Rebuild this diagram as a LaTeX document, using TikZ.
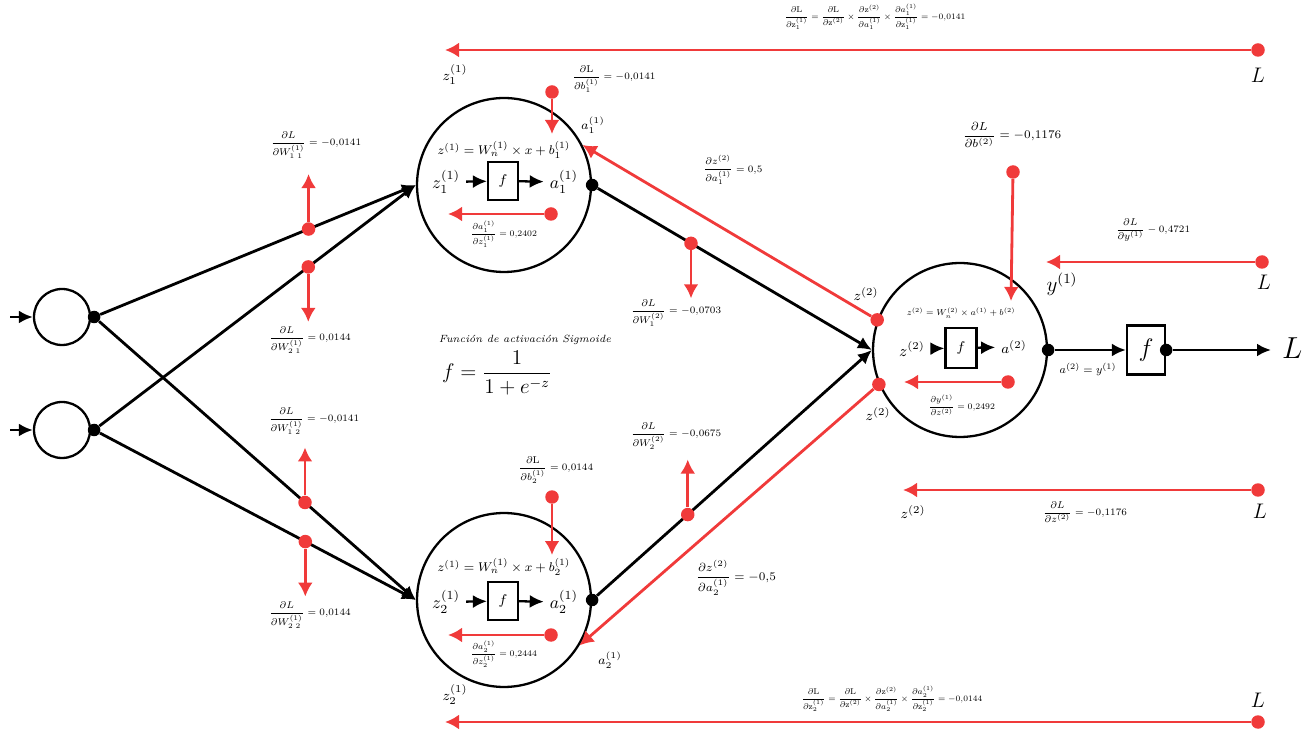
\documentclass[tikz,border=0pt]{standalone}
\usepackage{xcolor}
\usepackage{tikz}
\usetikzlibrary{arrows.meta}
\usepackage{amsmath}
\definecolor{rojo}{HTML}{F03A3A}

\begin{document}
\begin{tikzpicture}[x=0.02cm, y=-0.02cm,
    neurona/.style={draw, circle, line width=1.3pt, minimum size=3.48cm, inner sep=0pt},
    entrada/.style={draw, circle, line width=1.3pt, minimum size=1.12cm, inner sep=0pt},
    punto/.style={circle, fill=black, inner sep=0pt, minimum size=0.25cm},
    puntorojo/.style={circle, fill=rojo, inner sep=0pt, minimum size=0.27cm},
    caja/.style={draw, line width=1.3pt, minimum width=0.6cm, minimum height=0.76cm, inner sep=0pt},
    flecha/.style={line width=1.6pt, -{Latex[length=2.8mm,width=2.6mm]}},
    grad/.style={rojo, line width=1.6pt, -{Latex[length=2.8mm,width=3mm]}},
    etiq/.style={font=\scriptsize, scale=0.8, inner sep=1pt},
    chica/.style={font=\scriptsize, scale=0.7, inner sep=1pt},
    grande/.style={font=\scriptsize, scale=0.95, inner sep=1pt},
    marca/.style={font=\footnotesize, inner sep=1pt}]
    \useasboundingbox (0,0) rectangle (1304,732);
    % Capa de entrada
    \node[entrada] (e1) at (62,317) {};
    \node[entrada] (e2) at (62,430) {};
    \coordinate (i1) at (10,317);
    \coordinate (i2) at (10,430);
    \draw[flecha] (i1) -- (e1);
    \draw[flecha] (i2) -- (e2);
    \node[punto] (s1) at ([xshift=0.06cm]e1.east) {};
    \node[punto] (s2) at ([xshift=0.06cm]e2.east) {};
    % Capa oculta
    \node[neurona] (h1) at (504,185) {};
    \node[neurona] (h2) at (504,600) {};
    \node[punto] (t1) at (h1.east) {};
    \node[punto] (t2) at (h2.east) {};
    \draw[flecha] (s1) -- coordinate[pos=0.66] (w11) (h1.west);
    \draw[flecha] (s2) -- coordinate[pos=0.66] (w21) (h1.west);
    \draw[flecha] (s1) -- coordinate[pos=0.65] (w12) (h2.west);
    \draw[flecha] (s2) -- coordinate[pos=0.65] (w22) (h2.west);
    % Neurona de salida
    \node[neurona] (o) at (960,350) {};
    \node[punto] (so) at (o.east) {};
    \draw[flecha] (t1) -- coordinate[pos=0.34] (v1) (o.west);
    \draw[flecha] (t2) -- coordinate[pos=0.33] (v2) (o.west);
    \node[caja, minimum width=0.76cm, minimum height=0.98cm] (fo) at (1146,350) {\Large$f$};
    \node[punto] (sf) at (fo.east) {};
    \coordinate (cfin) at (1271,350);
    \node[font=\LARGE, anchor=west] (lfin) at (1276,348) {$L$};
    \draw[flecha] (so) -- (fo);
    \draw[flecha] (sf) -- (cfin);
    \node[etiq, font=\footnotesize] (ay) at (1088,369) {$a^{(2)} = y^{(1)}$};
    % Interior de h1
    \node[font=\footnotesize, scale=0.9] (h1ec) at (504,150) {$z^{(1)} = W_n^{(1)} \times x + b_1^{(1)}$};
    \node[caja] (h1f) at (503,181) {\footnotesize$f$};
    \node (h1z) at (446,182) {$z_1^{(1)}$};
    \node (h1a) at (564,182) {$a_1^{(1)}$};
    \draw[flecha, line width=1.3pt] (h1z) -- (h1f);
    \draw[flecha, line width=1.3pt] (h1f) -- (h1a);
    \node[puntorojo] (h1r) at (551,214) {};
    \coordinate (h1l) at (448,214);
    \draw[grad] (h1r) -- (h1l);
    \node[chica] (h1d) at (504,234) {$\dfrac{\partial a_1^{(1)}}{\partial z_1^{(1)}} = 0{,}2402$};
    % Interior de h2
    \node[font=\footnotesize, scale=0.9] (h2ec) at (504,567) {$z^{(1)} = W_n^{(1)} \times x + b_2^{(1)}$};
    \node[caja] (h2f) at (503,601) {\footnotesize$f$};
    \node (h2z) at (446,602) {$z_2^{(1)}$};
    \node (h2a) at (564,602) {$a_2^{(1)}$};
    \draw[flecha, line width=1.3pt] (h2z) -- (h2f);
    \draw[flecha, line width=1.3pt] (h2f) -- (h2a);
    \node[puntorojo] (h2r) at (551,635) {};
    \coordinate (h2l) at (448,635);
    \draw[grad] (h2r) -- (h2l);
    \node[chica] (h2d) at (504,654) {$\dfrac{\partial a_2^{(1)}}{\partial z_2^{(1)}} = 0{,}2444$};
    % Interior de la salida
    \node[chica] (oec) at (961,313) {$z^{(2)} = W_n^{(2)} \times a^{(1)} + b^{(2)}$};
    \node[caja, minimum width=0.62cm, minimum height=0.8cm] (of) at (961,348) {\footnotesize$f$};
    \node[font=\small] (oz) at (912,349) {$z^{(2)}$};
    \node[font=\footnotesize] (oa) at (1014,347) {$a^{(2)}$};
    \draw[flecha, line width=1.3pt] (oz) -- (of);
    \draw[flecha, line width=1.3pt] (of) -- (oa);
    \node[puntorojo] (or) at (1008,382) {};
    \coordinate (ol) at (904,382);
    \draw[grad] (or) -- (ol);
    \node[chica] (od) at (962,405) {$\dfrac{\partial y^{(1)}}{\partial z^{(2)}} = 0{,}2492$};
    % Pesos de la capa oculta
    \node[puntorojo] (dw11) at (w11) {};
    \node[puntorojo] (dw21) at (w21) {};
    \node[puntorojo] (dw12) at (w12) {};
    \node[puntorojo] (dw22) at (w22) {};
    \coordinate (aw11) at ([yshift=1.1cm]w11);
    \coordinate (aw21) at ([yshift=-1.1cm]w21);
    \coordinate (aw12) at ([yshift=1.1cm]w12);
    \coordinate (aw22) at ([yshift=-1.1cm]w22);
    \draw[grad] (dw11) -- (aw11);
    \draw[grad] (dw21) -- (aw21);
    \draw[grad] (dw12) -- (aw12);
    \draw[grad] (dw22) -- (aw22);
    \node[etiq] (lw11) at (316,145) {$\dfrac{\partial L}{\partial W_{1\;1}^{(1)}} = -0{,}0141$};
    \node[etiq] (lw21) at (310,340) {$\dfrac{\partial L}{\partial W_{2\;1}^{(1)}} = 0{,}0144$};
    \node[etiq] (lw12) at (314,421) {$\dfrac{\partial L}{\partial W_{1\;2}^{(1)}} = -0{,}0141$};
    \node[etiq] (lw22) at (310,615) {$\dfrac{\partial L}{\partial W_{2\;2}^{(1)}} = 0{,}0144$};
    % Sesgos de la capa oculta
    \node[puntorojo] (db1) at (552,92) {};
    \coordinate (ab1) at (552,134);
    \draw[grad] (db1) -- (ab1);
    \node[etiq] (lb1) at (614,79) {$\dfrac{\partial \mathrm{L}}{\partial b_1^{(1)}} = -0{,}0141$};
    \node[puntorojo] (db2) at (552,497) {};
    \coordinate (ab2) at (552,555);
    \draw[grad] (db2) -- (ab2);
    \node[etiq] (lb2) at (556,470) {$\dfrac{\partial \mathrm{L}}{\partial b_2^{(1)}} = 0{,}0144$};
    \node[marca, font=\scriptsize] (la1) at (593,125) {$a_1^{(1)}$};
    \node[marca, font=\scriptsize] (la2) at (610,660) {$a_2^{(1)}$};
    % Pesos de la salida
    \node[puntorojo] (dv1) at (v1) {};
    \node[puntorojo] (dv2) at (v2) {};
    \coordinate (av1) at ([yshift=-1.1cm]v1);
    \coordinate (av2) at ([yshift=1.1cm]v2);
    \draw[grad] (dv1) -- (av1);
    \draw[grad] (dv2) -- (av2);
    \node[etiq] (lv1) at (676,313) {$\dfrac{\partial L}{\partial W_1^{(2)}} = -0{,}0703$};
    \node[etiq] (lv2) at (676,436) {$\dfrac{\partial L}{\partial W_2^{(2)}} = -0{,}0675$};
    % Retropropagacion hacia la capa oculta
    \node[puntorojo] (rz1) at (o.160) {};
    \node[puntorojo] (rz2) at (o.203) {};
    \draw[grad] (rz1) -- (h1.27);
    \draw[grad] (rz2) -- (h2.-31);
    \node[marca] (lz1) at (866,294) {$z^{(2)}$};
    \node[marca] (lz2) at (878,414) {$z^{(2)}$};
    \node[etiq] (lr1) at (733,170) {$\dfrac{\partial z^{(2)}}{\partial a_1^{(1)}} = 0{,}5$};
    \node[grande] (lr2) at (736,578) {$\dfrac{\partial z^{(2)}}{\partial a_2^{(1)}} = -0{,}5$};
    % Sesgo de la salida
    \node[puntorojo] (dbo) at (1013,172) {};
    \coordinate (abo) at (1011,301);
    \draw[grad] (dbo) -- (abo);
    \node[grande] (lbo) at (1012,135) {$\dfrac{\partial L}{\partial b^{(2)}} = -0{,}1176$};
    % Flechas horizontales desde L
    \node[puntorojo] (ly) at (1262,262) {};
    \coordinate (fy) at (1046,262);
    \draw[grad] (ly) -- (fy);
    \node[font=\large] (ty) at (1062,284) {$y^{(1)}$};
    \node[font=\large] (tly) at (1264,282) {$L$};
    \node[etiq] (dly) at (1153,230) {$\dfrac{\partial L}{\partial y^{(1)}} - 0{,}4721$};
    \node[puntorojo] (lz) at (1258,490) {};
    \coordinate (fz) at (903,490);
    \draw[grad] (lz) -- (fz);
    \node[marca] (tz) at (913,512) {$z^{(2)}$};
    \node[font=\large] (tlz) at (1260,511) {$L$};
    \node[etiq] (dlz) at (1085,512) {$\dfrac{\partial L}{\partial z^{(2)}} = -0{,}1176$};
    \node[puntorojo] (lt) at (1258,50) {};
    \coordinate (ft) at (445,50);
    \draw[grad] (lt) -- (ft);
    \node[font=\large] (tlt) at (1258,75) {$L$};
    \node[marca] (tzt) at (455,75) {$z_1^{(1)}$};
    \node[font=\scriptsize, scale=0.68] (dlt) at (875,17) {$\dfrac{\partial \mathrm{L}}{\partial \mathrm{z}_1^{(1)}} = \dfrac{\partial \mathrm{L}}{\partial \mathrm{z}^{(2)}} \times \dfrac{\partial \mathrm{z}^{(2)}}{\partial a_1^{(1)}} \times \dfrac{\partial a_1^{(1)}}{\partial \mathrm{z}_1^{(1)}} = -0{,}0141$};
    \node[puntorojo] (lb) at (1258,722) {};
    \coordinate (fb) at (445,722);
    \draw[grad] (lb) -- (fb);
    \node[font=\large] (tlb) at (1258,700) {$L$};
    \node[marca] (tzb) at (455,695) {$z_2^{(1)}$};
    \node[font=\scriptsize, scale=0.68] (dlb) at (892,699) {$\dfrac{\partial \mathrm{L}}{\partial \mathrm{z}_2^{(1)}} = \dfrac{\partial \mathrm{L}}{\partial \mathrm{z}^{(2)}} \times \dfrac{\partial \mathrm{z}^{(2)}}{\partial a_2^{(1)}} \times \dfrac{\partial a_2^{(1)}}{\partial \mathrm{z}_2^{(1)}} = -0{,}0144$};
    % Funcion de activacion
    \node[font=\scriptsize, scale=0.85] (tfa) at (525,340) {\itshape Función de activación Sigmoide};
    \node[font=\large] (ffa) at (497,373) {$f = \dfrac{1}{1 + e^{-z}}$};
\end{tikzpicture}
\end{document}
